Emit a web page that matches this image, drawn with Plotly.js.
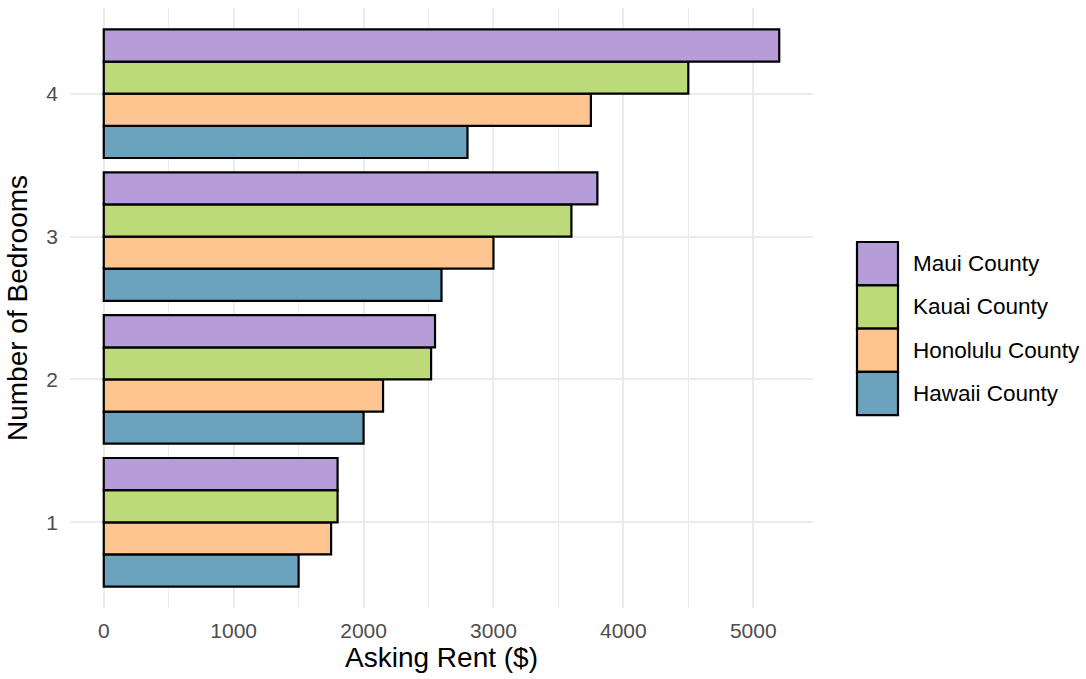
<!DOCTYPE html>
<html>
<head>
<meta charset="utf-8">
<script src="https://cdn.plot.ly/plotly-3.0.1.min.js"></script>
<style>html,body{margin:0;padding:0;background:#fff}#chart{width:1086px;height:679px}</style>
</head>
<body>
<div id="chart"></div>
<script>
// Data
const bedrooms = [1, 2, 3, 4];
const counties = ["Hawaii County", "Honolulu County", "Kauai County", "Maui County"];
const hawaiiRent = [1500, 2000, 2600, 2800];
const honoluluRent = [1750, 2150, 3000, 3750];
const kauaiRent = [1800, 2520, 3600, 4500];
const mauiRent = [1800, 2550, 3800, 5200];
const colors = ["#6ba3bf", "#fec590", "#bdda7b", "#b69cd8"];
const xTicks = [0, 1000, 2000, 3000, 4000, 5000];

const series = [hawaiiRent, honoluluRent, kauaiRent, mauiRent];
const traces = series.map((vals, i) => ({
  type: 'bar',
  orientation: 'h',
  name: counties[i],
  x: vals,
  y: bedrooms,
  marker: {color: colors[i], line: {color: '#000', width: 2.2}},
  showlegend: false,
  hoverinfo: 'x+name'
}));

const W = 1086, H = 679;
const L = 70, R = 813, T = 8, B = 608;
const px = x => (x - L) / (R - L);
const py = y => (B - y) / (B - T);
const FONT = 'Liberation Sans, Arial, sans-serif';

// custom legend (top to bottom: Maui, Kauai, Honolulu, Hawaii)
const shapes = [];
const annotations = [];
const keyX0 = 857, keyX1 = 898, keyTop = 242, keyH = 43.3;
for (let k = 0; k < counties.length; k++) {
  const i = counties.length - 1 - k;
  const y0 = keyTop + k * keyH, y1 = y0 + keyH;
  shapes.push({type: 'rect', xref: 'paper', yref: 'paper',
    x0: px(keyX0), x1: px(keyX1), y0: py(y1), y1: py(y0),
    fillcolor: colors[i], line: {color: '#000', width: 2.2}});
  annotations.push({xref: 'paper', yref: 'paper', x: px(911), y: py((y0 + y1) / 2),
    xanchor: 'left', yanchor: 'middle', showarrow: false, text: counties[i],
    font: {family: FONT, size: 22.5, color: '#000'}});
}

const layout = {
  width: W, height: H,
  margin: {l: L, r: W - R, t: T, b: H - B, pad: 0},
  paper_bgcolor: '#fff', plot_bgcolor: '#fff',
  font: {family: FONT},
  barmode: 'group', bargap: 0.1, bargroupgap: 0,
  xaxis: {
    range: [-260, 5460], tickvals: xTicks, ticktext: xTicks.map(String),
    showgrid: true, gridcolor: '#ebebeb', gridwidth: 2,
    minor: {dtick: 500, tick0: 0, showgrid: true, gridcolor: '#ebebeb', gridwidth: 1.3, ticks: ''},
    zeroline: false, showline: false, ticks: '',
    tickfont: {size: 21, color: '#4d4d4d'},
    ticklabelstandoff: 8,
    title: {text: 'Asking Rent ($)', font: {size: 28, color: '#000'}, standoff: 6},
    automargin: false
  },
  yaxis: {
    range: [0.4, 4.6], tickvals: bedrooms, ticktext: bedrooms.map(String),
    showgrid: true, gridcolor: '#ebebeb', gridwidth: 2,
    zeroline: false, showline: false, ticks: '',
    tickfont: {size: 21, color: '#4d4d4d'},
    ticklabelstandoff: 11,
    title: {text: 'Number of Bedrooms', font: {size: 28, color: '#000'}, standoff: 10},
    automargin: false
  },
  shapes: shapes,
  annotations: annotations
};

Plotly.newPlot('chart', traces, layout, {displayModeBar: false, staticPlot: true});
</script>
</body>
</html>
